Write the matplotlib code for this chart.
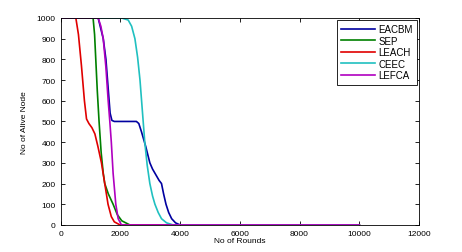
import matplotlib
matplotlib.use("Agg")
import matplotlib.pyplot as plt

plt.rcParams['font.family'] = ['Liberation Sans', 'DejaVu Sans']

# rounds / alive nodes
eacbm_x = [0, 1260, 1430, 1520, 1600, 1660, 1720, 1800, 2540, 2620, 2710, 2850, 2990, 3080, 3160, 3300, 3380, 3450, 3530, 3620, 3720, 3850, 4000, 10000]
eacbm_y = [1000, 1000, 900, 800, 650, 540, 505, 500, 500, 490, 450, 380, 300, 270, 250, 215, 200, 150, 100, 60, 30, 10, 0, 0]

sep_x = [0, 1090, 1140, 1180, 1230, 1290, 1360, 1430, 1480, 1600, 1760, 1900, 2050, 2320, 10000]
sep_y = [1000, 1000, 920, 800, 650, 500, 350, 250, 200, 150, 100, 50, 20, 0, 0]

leach_x = [0, 513, 600, 700, 800, 870, 950, 1050, 1150, 1250, 1370, 1480, 1590, 1700, 1800, 1990, 10000]
leach_y = [1000, 1000, 920, 770, 600, 512, 490, 470, 440, 380, 300, 200, 100, 40, 15, 0, 0]

ceec_x = [0, 2040, 2265, 2380, 2490, 2580, 2660, 2740, 2820, 2900, 2990, 3080, 3160, 3270, 3380, 3550, 3770, 10000]
ceec_y = [1000, 1000, 990, 960, 900, 810, 700, 550, 400, 290, 200, 140, 100, 60, 30, 10, 0, 0]

lefca_x = [0, 1260, 1350, 1430, 1520, 1595, 1650, 1700, 1760, 1850, 1930, 2040, 10000]
lefca_y = [1000, 1000, 960, 900, 760, 600, 500, 400, 250, 100, 30, 0, 0]

labels = ['EACBM', 'SEP', 'LEACH', 'CEEC', 'LEFCA']
colors = ['#0000a0', '#008000', '#e00000', '#20c0c0', '#b000c0']

fig = plt.figure(figsize=(4.62, 2.53), dpi=100)
ax = fig.add_axes([0.131, 0.107, 0.776, 0.818])

series = [(eacbm_x, eacbm_y), (sep_x, sep_y), (leach_x, leach_y), (ceec_x, ceec_y), (lefca_x, lefca_y)]
for (xs, ys), lab, c in zip(series, labels, colors):
    ax.plot(xs, ys, color=c, linewidth=1.2, label=lab)

ax.set_xlim(0, 12000)
ax.set_ylim(0, 1000)
ax.set_xticks(range(0, 12001, 2000))
ax.set_yticks(range(0, 1001, 100))
ax.tick_params(direction='in', top=True, right=True, labelsize=6, length=3, width=0.6)
for s in ax.spines.values():
    s.set_linewidth(0.6)

ax.set_xlabel('No of Rounds', fontsize=6, labelpad=0)
ax.set_ylabel('No of Alive Node', fontsize=6, labelpad=6)

leg = ax.legend(loc='upper right', fontsize=7, frameon=True, fancybox=False,
                edgecolor='black', framealpha=1, handlelength=3.5,
                borderpad=0.45, labelspacing=0.15, handletextpad=0.3,
                borderaxespad=0.2)
leg.get_frame().set_linewidth(0.6)

fig.savefig('out.png', dpi=100)
